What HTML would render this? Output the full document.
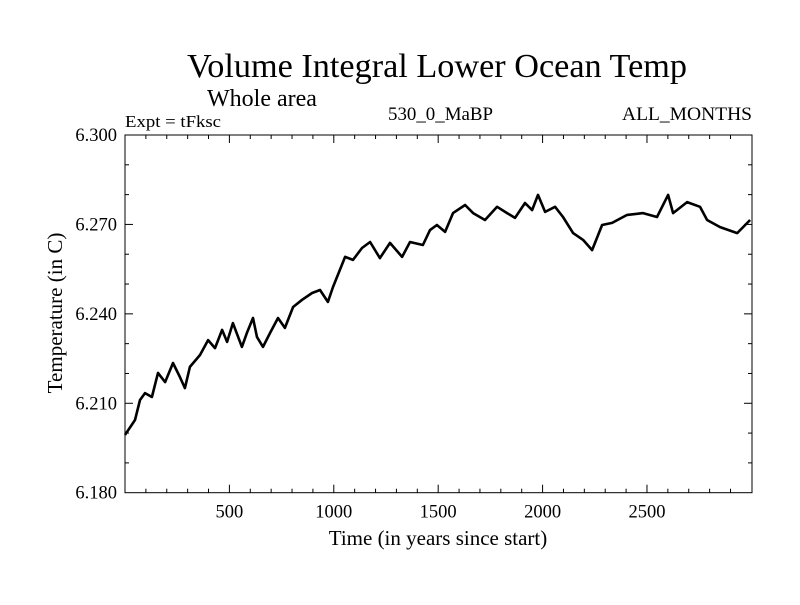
<!DOCTYPE html>
<html><head><meta charset="utf-8"><style>
body{margin:0;background:#fff;}
svg text{font-family:"Liberation Serif",serif;fill:#000;}
</style></head><body>
<svg id="chart" width="800" height="600" viewBox="0 0 800 600" xmlns="http://www.w3.org/2000/svg">
<rect width="800" height="600" fill="#fff"/>
<text x="437" y="77" font-size="34" text-anchor="middle" textLength="500" lengthAdjust="spacingAndGlyphs">Volume Integral Lower Ocean Temp</text>
<text x="207" y="106" font-size="24">Whole area</text>
<text x="125" y="127" font-size="17" textLength="96" lengthAdjust="spacingAndGlyphs">Expt = tFksc</text>
<text x="388" y="120" font-size="19" textLength="105" lengthAdjust="spacingAndGlyphs">530_0_MaBP</text>
<text x="622" y="120" font-size="19" textLength="130" lengthAdjust="spacingAndGlyphs">ALL_MONTHS</text>
<text transform="translate(62,313) rotate(-90)" font-size="21" text-anchor="middle">Temperature (in C)</text>
<text x="438" y="545" font-size="21" text-anchor="middle">Time (in years since start)</text>
<g id="axes"></g>
<g id="series"></g>
</svg>
<script>
const years=[0,48,72,96,129,158,192,230,263,287,311,359,398,431,465,489,517,560,584,613,632,661,695,733,766,805,848,896,934,972,996,1054,1092,1135,1174,1221,1269,1327,1365,1427,1461,1494,1533,1571,1629,1667,1724,1782,1830,1868,1916,1950,1978,2012,2060,2098,2146,2194,2237,2285,2333,2405,2481,2548,2601,2625,2692,2754,2788,2850,2932,2994];
const temps=[6.1994,6.2044,6.2111,6.2134,6.2121,6.2202,6.2171,6.2235,6.2188,6.2151,6.2222,6.2262,6.2312,6.2285,6.2346,6.2306,6.2369,6.2289,6.2336,6.2386,6.2322,6.2289,6.2336,6.2386,6.2353,6.2423,6.2447,6.2470,6.2480,6.2440,6.2490,6.2591,6.2581,6.2621,6.2641,6.2587,6.2638,6.2591,6.2641,6.2631,6.2681,6.2698,6.2675,6.2738,6.2765,6.2738,6.2715,6.2759,6.2738,6.2722,6.2772,6.2748,6.2799,6.2742,6.2759,6.2725,6.2671,6.2648,6.2614,6.2698,6.2705,6.2732,6.2738,6.2725,6.2799,6.2738,6.2775,6.2759,6.2715,6.2691,6.2671,6.2715];
const xTickLabels=[500,1000,1500,2000,2500];
const yTickLabels=[6.18,6.21,6.24,6.27,6.30];
const L=125,R=752,T=135,B=492.7,X0=0,X1=3003,Y0=6.18,Y1=6.30;
const xs=v=>L+(v-X0)/(X1-X0)*(R-L);
const ys=v=>B-(v-Y0)/(Y1-Y0)*(B-T);
const NS="http://www.w3.org/2000/svg";
const ax=document.getElementById('axes');
function mk(t,a,p){const e=document.createElementNS(NS,t);for(const k in a)e.setAttribute(k,a[k]);(p||ax).appendChild(e);return e;}
const frame=mk('rect',{x:L,y:T,width:R-L,height:B-T,fill:'none',stroke:'#000','stroke-width':1});


for(let v=100;v<3000;v+=100){
  const big=v%500===0, x=xs(v);
  mk('line',{x1:x,x2:x,y1:B,y2:B-(big?8:4),stroke:'#000'});
  mk('line',{x1:x,x2:x,y1:T,y2:T+(big?8:4),stroke:'#000'});
}
xTickLabels.forEach(v=>{const t=mk('text',{x:xs(v),y:B+25,'font-size':18.5,'text-anchor':'middle'});t.textContent=v;

});
for(let i=1;i<12;i++){
  const v=Y0+i*0.01, big=i%3===0, y=ys(v);
  mk('line',{x1:L,x2:L+(big?8:4),y1:y,y2:y,stroke:'#000'});
  mk('line',{x1:R,x2:R-(big?8:4),y1:y,y2:y,stroke:'#000'});
}
yTickLabels.forEach(v=>{const t=mk('text',{x:L-8,y:ys(v)+6,'font-size':18.5,'text-anchor':'end'});t.textContent=v.toFixed(3);

});
const d=years.map((y,i)=>(i?'L':'M')+xs(y).toFixed(1)+','+ys(temps[i]).toFixed(1)).join('');
const line=mk('path',{d:d,fill:'none',stroke:'#000','stroke-width':2.6,'stroke-linejoin':'round'},document.getElementById('series'));


</script>
</body></html>
